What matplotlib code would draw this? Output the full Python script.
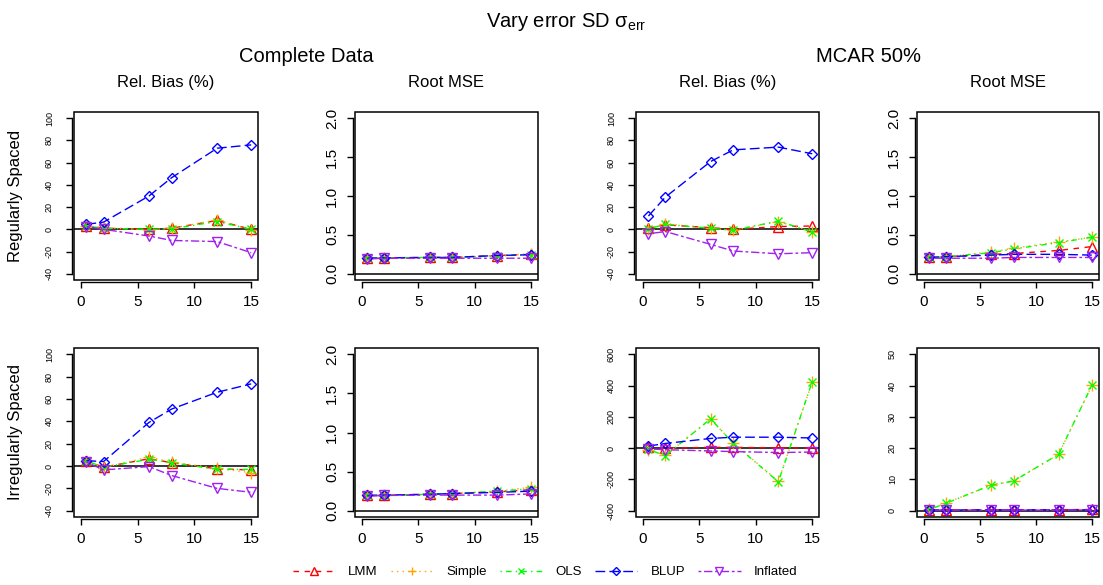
import matplotlib
matplotlib.use("Agg")
import matplotlib.pyplot as plt
from matplotlib.patches import Rectangle
from matplotlib.lines import Line2D

plt.rcParams['font.family'] = ['Liberation Sans', 'DejaVu Sans']
plt.rcParams['mathtext.fontset'] = 'custom'
plt.rcParams['mathtext.rm'] = 'Liberation Sans'
plt.rcParams['mathtext.it'] = 'Liberation Sans:italic'
plt.rcParams['axes.unicode_minus'] = False

# simulation settings on the x axis
sd_err = [0.5, 2, 6, 8, 12, 15]

methods = ["LMM", "Simple", "OLS", "BLUP", "Inflated"]
colors = ["#FF0000", "#FFA500", "#00FF00", "#0000FF", "#A020F0"]
markers = ["^", "+", "x", "D", "v"]
marker_sizes = [7, 8, 6, 5.5, 7]
dash_styles = [(4, 4), (1, 3), (1, 3, 4, 3), (7, 3), (2, 2, 6, 2)]

# each block: LMM, Simple, OLS, BLUP, Inflated
bias_reg_complete = [
    [3, 1, 0, 1, 8, 0],
    [3, 1.5, -0.5, 1, 8.5, -0.5],
    [3, 1, 0, 0.5, 7, 0],
    [4.5, 6.5, 30, 46.5, 73, 76],
    [2.5, 0, -6, -10, -11, -21],
]
rmse_reg_complete = [
    [0.20, 0.205, 0.21, 0.21, 0.235, 0.25],
    [0.20, 0.205, 0.21, 0.21, 0.235, 0.255],
    [0.20, 0.205, 0.21, 0.21, 0.23, 0.245],
    [0.20, 0.205, 0.21, 0.21, 0.235, 0.245],
    [0.19, 0.20, 0.20, 0.20, 0.20, 0.20],
]
bias_reg_mcar = [
    [1, 4, 1.5, 0, 2.5, 3],
    [0.5, 5, 1, -1, 7, -2],
    [0.5, 4.5, 1, -1, 7.5, -2.5],
    [12, 29, 61, 71.5, 74, 68],
    [-4, -2, -13.5, -19.5, -22, -21],
]
rmse_reg_mcar = [
    [0.21, 0.22, 0.25, 0.26, 0.30, 0.35],
    [0.21, 0.22, 0.28, 0.33, 0.41, 0.47],
    [0.21, 0.22, 0.27, 0.32, 0.40, 0.47],
    [0.21, 0.22, 0.24, 0.25, 0.25, 0.24],
    [0.20, 0.20, 0.20, 0.21, 0.21, 0.21],
]
bias_irr_complete = [
    [4.5, -1, 6.5, 3, -2.5, -3.5],
    [4.5, -1.5, 8, 3.5, -2, -6],
    [4.5, -1, 6, 3, -3, -3],
    [4.8, 4, 39, 51, 66, 73.5],
    [3.5, -3.5, -0.5, -8.5, -20, -23.5],
]
rmse_irr_complete = [
    [0.195, 0.20, 0.21, 0.22, 0.24, 0.27],
    [0.195, 0.20, 0.21, 0.22, 0.25, 0.30],
    [0.195, 0.20, 0.21, 0.22, 0.25, 0.28],
    [0.195, 0.20, 0.21, 0.22, 0.235, 0.25],
    [0.185, 0.195, 0.20, 0.20, 0.20, 0.215],
]
bias_irr_mcar = [
    [5, 0, 5, 5, 2, 0],
    [-10, -45, 185, 35, -212, 422],
    [-8, -48, 187, 32, -215, 424],
    [13, 30, 62, 70, 70, 65],
    [-5, -10, -18, -22, -28, -25],
]
rmse_irr_mcar = [
    [0.35, 0.3, 0.3, 0.3, 0.35, 0.4],
    [0.4, 2.5, 8.2, 9.5, 18, 40.3],
    [0.4, 2.4, 8.2, 9.5, 18, 40.3],
    [0.3, 0.25, 0.25, 0.25, 0.25, 0.3],
    [0.2, 0.2, 0.2, 0.2, 0.2, 0.25],
]

bias_ticks = [-40, -20, 0, 20, 40, 60, 80, 100]
rmse_ticks = [0.0, 0.5, 1.0, 1.5, 2.0]
bias_irr_mcar_ticks = [-400, -200, 0, 200, 400, 600]
rmse_irr_mcar_ticks = [0, 10, 20, 30, 40, 50]
x_ticks = [0, 5, 10, 15]

W, H = 1103, 585
fig = plt.figure(figsize=(W / 100, H / 100), dpi=100)

col_edges = [(74, 258), (355, 538), (636, 819), (917, 1099)]
row_edges = [(112, 280), (348, 517)]


def make_axes(col, row):
    left, right = col_edges[col]
    top, bottom = row_edges[row]
    return fig.add_axes([left / W, 1 - bottom / H, (right - left) / W, (bottom - top) / H])


def draw_panel(ax, series, yticks, ylabels, ysize, ypad):
    lo, hi = yticks[0], yticks[-1]
    span = hi - lo
    ax.set_xlim(-0.6, 15.6)
    ax.set_ylim(lo - 0.04 * span, hi + 0.04 * span)
    ax.axhline(0, color="black", lw=1.1, zorder=1)
    for vals, c, m, ms, d in zip(series, colors, markers, marker_sizes, dash_styles):
        ax.plot(sd_err, vals, color=c, marker=m, ms=ms, mfc="none", mew=1.0,
                lw=1.0, dashes=d, zorder=3)

    # R-style box plus detached axis lines
    ax.add_patch(Rectangle((0, 0), 1, 1, transform=ax.transAxes, fill=False,
                           ec="black", lw=1.1, zorder=5, clip_on=False))
    for side in ["top", "right"]:
        ax.spines[side].set_visible(False)
    for side in ["left", "bottom"]:
        ax.spines[side].set_position(("outward", 1.5))
        ax.spines[side].set_linewidth(1.0)
    ax.spines["left"].set_bounds(lo, hi)
    ax.spines["bottom"].set_bounds(0, 15)

    ax.set_xticks(x_ticks)
    ax.set_xticklabels([str(t) for t in x_ticks])
    ax.set_yticks(yticks)
    ax.set_yticklabels(ylabels, rotation=90, va="center")
    ax.tick_params(axis="x", direction="out", length=4, width=1.0, labelsize=11, pad=5)
    ax.tick_params(axis="y", direction="out", length=4, width=1.0, labelsize=ysize, pad=ypad)


bias_labels = [str(t) for t in bias_ticks]
rmse_labels = ["%.1f" % t for t in rmse_ticks]

panels = [
    (0, 0, bias_reg_complete, bias_ticks, bias_labels, 6.5, 9),
    (1, 0, rmse_reg_complete, rmse_ticks, rmse_labels, 11, 6),
    (2, 0, bias_reg_mcar, bias_ticks, bias_labels, 6.5, 9),
    (3, 0, rmse_reg_mcar, rmse_ticks, rmse_labels, 11, 6),
    (0, 1, bias_irr_complete, bias_ticks, bias_labels, 6.5, 9),
    (1, 1, rmse_irr_complete, rmse_ticks, rmse_labels, 11, 6),
    (2, 1, bias_irr_mcar, bias_irr_mcar_ticks, [str(t) for t in bias_irr_mcar_ticks], 6.5, 9),
    (3, 1, rmse_irr_mcar, rmse_irr_mcar_ticks, [str(t) for t in rmse_irr_mcar_ticks], 6.5, 9),
]

for col, row, series, yt, yl, ys, yp in panels:
    ax = make_axes(col, row)
    draw_panel(ax, series, yt, yl, ys, yp)

# titles and row labels
fig.text(566 / W, 1 - 22 / H, r"Vary error SD $\mathrm{\sigma_{err}}$",
         ha="center", va="center", fontsize=14.5)
fig.text(306 / W, 1 - 57 / H, "Complete Data", ha="center", va="center", fontsize=14.5)
fig.text(868 / W, 1 - 57 / H, "MCAR 50%", ha="center", va="center", fontsize=14.5)
for col, name in enumerate(["Rel. Bias (%)", "Root MSE", "Rel. Bias (%)", "Root MSE"]):
    left, right = col_edges[col]
    fig.text((left + right) / 2 / W, 1 - 83 / H, name, ha="center", va="center", fontsize=12)
fig.text(16 / W, 1 - 196 / H, "Regularly Spaced", rotation=90, ha="center", va="center", fontsize=12)
fig.text(16 / W, 1 - 432 / H, "Irregularly Spaced", rotation=90, ha="center", va="center", fontsize=12)

handles = [Line2D([], [], color=c, marker=m, ms=ms * 0.75, mfc="none", mew=1.0, lw=1.0, dashes=d)
           for c, m, ms, d in zip(colors, markers, marker_sizes, dash_styles)]
fig.legend(handles, methods, loc="center", bbox_to_anchor=(545 / W, 1 - 572 / H), ncol=5,
           frameon=False, fontsize=9.5, handlelength=3.2, handletextpad=1.0, columnspacing=1.0)

fig.savefig("out.png", dpi=100)
